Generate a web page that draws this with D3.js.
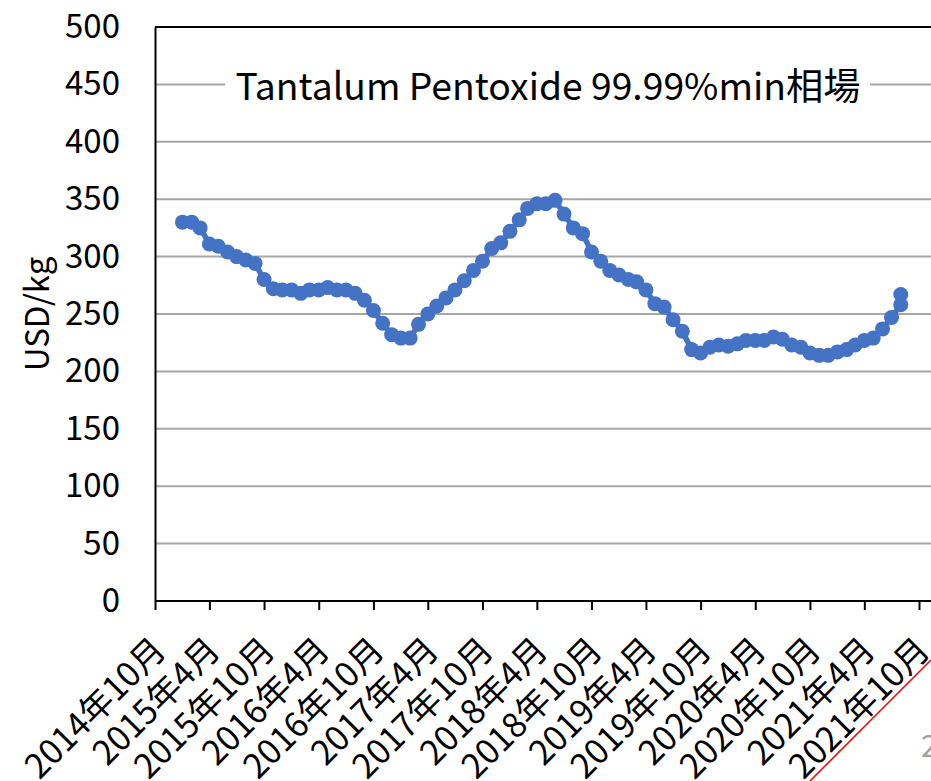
<!DOCTYPE html>
<html>
<head>
<meta charset="utf-8">
<script src="https://cdn.jsdelivr.net/npm/d3@7"></script>
<style>
  body { margin: 0; background: #ffffff; }
  svg { display: block; font-family: "Noto Sans CJK JP", "Noto Sans", sans-serif; }
</style>
</head>
<body>
<svg id="chart"></svg>
<script>
// ---------- data ----------
var months = [
  "2015-01","2015-02","2015-03","2015-04","2015-05","2015-06","2015-07","2015-08","2015-09","2015-10","2015-11","2015-12",
  "2016-01","2016-02","2016-03","2016-04","2016-05","2016-06","2016-07","2016-08","2016-09","2016-10","2016-11","2016-12",
  "2017-01","2017-02","2017-03","2017-04","2017-05","2017-06","2017-07","2017-08","2017-09","2017-10","2017-11","2017-12",
  "2018-01","2018-02","2018-03","2018-04","2018-05","2018-06","2018-07","2018-08","2018-09","2018-10","2018-11","2018-12",
  "2019-01","2019-02","2019-03","2019-04","2019-05","2019-06","2019-07","2019-08","2019-09","2019-10","2019-11","2019-12",
  "2020-01","2020-02","2020-03","2020-04","2020-05","2020-06","2020-07","2020-08","2020-09","2020-10","2020-11","2020-12",
  "2021-01","2021-02","2021-03","2021-04","2021-05","2021-06","2021-07","2021-08","2021-08"
]
var prices = [
  330,330,325,311,309,304,300,297,294,280,272,271,
  271,268,271,271,273,271,271,268,262,253,242,232,
  229,229,241,250,257,264,271,279,288,296,307,312,
  322,332,342,346,346,349,337,325,320,304,296,288,
  284,280,278,271,259,256,245,235,219,216,221,223,
  222,224,227,227,227,230,228,223,221,216,214,214,
  217,219,223,227,229,237,247,258,267
]
var tickMonths = ["2014-10","2015-04","2015-10","2016-04","2016-10","2017-04","2017-10","2018-04",
  "2018-10","2019-04","2019-10","2020-04","2020-10","2021-04","2021-10"]
var tickLabels = ["2014年10月","2015年4月","2015年10月","2016年4月","2016年10月","2017年4月","2017年10月","2018年4月",
  "2018年10月","2019年4月","2019年10月","2020年4月","2020年10月","2021年4月","2021年10月"]
var yTicks = [0,50,100,150,200,250,300,350,400,450,500]
var titleText = "Tantalum Pentoxide 99.99%min相場"
var yTitle = "USD/kg"

var parseMonth = d3.timeParse("%Y-%m")

//---------- axes + grid ----------
var drawAxes = function(svg, screen, graph, xScale, yScale)
{
  // horizontal gridlines
  svg.append("g")
    .selectAll("line")
    .data(yTicks.filter(function(t){ return t > 0 && t < 500 }))
    .enter()
    .append("line")
    .attr("x1", graph.left)
    .attr("x2", screen.width)
    .attr("y1", function(t){ return yScale(t) })
    .attr("y2", function(t){ return yScale(t) })
    .attr("stroke", "#a6a6a6")
    .attr("stroke-width", 2)

  // top border
  svg.append("line")
    .attr("x1", graph.left).attr("x2", screen.width)
    .attr("y1", yScale(500)).attr("y2", yScale(500))
    .attr("stroke", "#000").attr("stroke-width", 2)

  // y axis
  var yAxis = d3.axisLeft(yScale).tickValues(yTicks).tickSize(0).tickPadding(35)
  var yg = svg.append("g")
    .attr("transform", "translate(" + graph.left + ",0)")
    .call(yAxis)
  yg.select(".domain").attr("stroke", "#000").attr("stroke-width", 2)
  yg.selectAll("text")
    .attr("font-size", 33)
    .attr("fill", "#000")
    .attr("font-family", "'Noto Sans CJK JP', sans-serif")

  // x axis
  var xAxis = d3.axisBottom(xScale)
    .tickValues(tickMonths.map(parseMonth))
    .tickSize(9)
    .tickSizeOuter(0)
    .tickFormat(function(d, i){ return tickLabels[i] })
  var xg = svg.append("g")
    .attr("transform", "translate(0," + yScale(0) + ")")
    .call(xAxis)
  xg.select(".domain").attr("d", "M" + graph.left + ",0H" + screen.width)
    .attr("stroke", "#000").attr("stroke-width", 2)
  xg.selectAll(".tick line").attr("stroke", "#000").attr("stroke-width", 2)
  xg.selectAll(".tick text")
    .attr("y", 0).attr("dy", null)
    .attr("font-size", 34)
    .attr("fill", "#000")
    .attr("font-family", "'Noto Sans CJK JP', sans-serif")
    .attr("text-anchor", "end")
    .attr("dominant-baseline", "central")
    .attr("transform", "translate(2,41) rotate(-45)")
}

//---------- line + markers ----------
var drawLine = function(svg, data, xScale, yScale)
{
  var line = d3.line()
    .x(function(d){ return xScale(d.date) })
    .y(function(d){ return yScale(d.value) })

  svg.append("path")
    .datum(data)
    .attr("d", line)
    .attr("fill", "none")
    .attr("stroke", "#4472c4")
    .attr("stroke-width", 5.5)
    .attr("stroke-linejoin", "round")

  svg.append("g")
    .selectAll("circle")
    .data(data)
    .enter()
    .append("circle")
    .attr("cx", function(d){ return xScale(d.date) })
    .attr("cy", function(d){ return yScale(d.value) })
    .attr("r", 7.5)
    .attr("fill", "#4472c4")
}

//---------- labels ----------
var drawLabels = function(svg, screen, graph, yScale)
{
  var title = svg.append("g")
  var bg = title.append("rect").attr("fill", "#fff")
  var t = title.append("text")
    .attr("x", 548)
    .attr("y", yScale(450))
    .attr("text-anchor", "middle")
    .attr("dominant-baseline", "central")
    .attr("font-size", 38)
    .attr("fill", "#000")
    .text(titleText)
  var len = t.node().getComputedTextLength()
  t.attr("font-size", 38 * 625 / len)
  bg.attr("x", 225).attr("y", yScale(450) - 28).attr("width", 645).attr("height", 56)

  svg.append("text")
    .attr("transform", "translate(35," + yScale(250) + ") rotate(-90)")
    .attr("text-anchor", "middle")
    .attr("dominant-baseline", "central")
    .attr("font-size", 33)
    .attr("fill", "#000")
    .text(yTitle)

  // leftover bits at the bottom-right corner of the picture
  svg.append("line")
    .attr("x1", 810).attr("y1", 781).attr("x2", 931).attr("y2", 660)
    .attr("stroke", "#ff0000").attr("stroke-width", 1.5)
  svg.append("text")
    .attr("x", 921).attr("y", 757)
    .attr("font-size", 30)
    .attr("fill", "#a0a0a0")
    .text("2")
}

//---------- make graph ----------
var initgraph = function()
{
  var screen = {width: 931, height: 781}
  var graph = {left: 155, top: 27, bottom: 601}

  var data = months.map(function(m, i){ return {date: parseMonth(m), value: prices[i]} })

  var xScale = d3.scaleTime()
    .domain([parseMonth("2014-10"), parseMonth("2021-10")])
    .range([155, 919])

  var yScale = d3.scaleLinear()
    .domain([0, 500])
    .range([graph.bottom, graph.top])

  var svg = d3.select("#chart")
    .attr("width", screen.width)
    .attr("height", screen.height)

  svg.append("rect")
    .attr("width", screen.width).attr("height", screen.height)
    .attr("fill", "#fff")

  drawAxes(svg, screen, graph, xScale, yScale)
  drawLabels(svg, screen, graph, yScale)
  drawLine(svg, data, xScale, yScale)
}

initgraph()
</script>
</body>
</html>
